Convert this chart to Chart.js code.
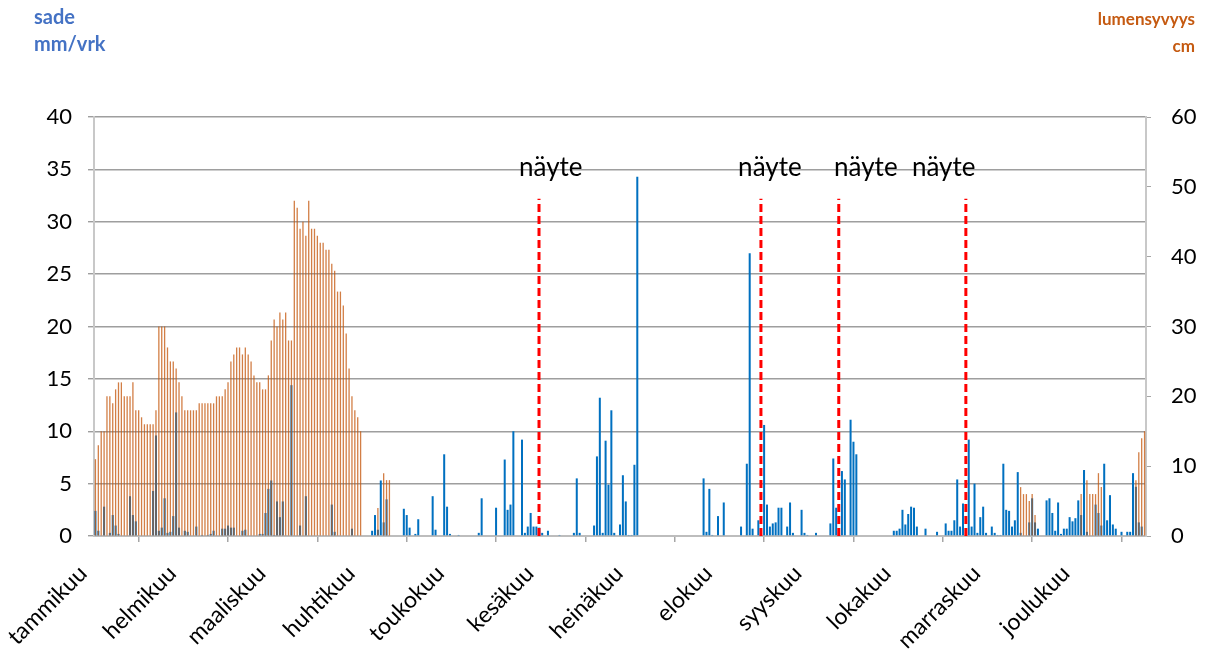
<!DOCTYPE html>
<html>
<head>
<meta charset="utf-8">
<script src="https://cdn.jsdelivr.net/npm/chart.js@4.4.1/dist/chart.umd.min.js"></script>
<style>
    body { margin: 0; background: #fff; font-family: Lato, "Open Sans", sans-serif; }
    #wrap { position: relative; width: 1213px; height: 659px; }
    .unit { position: absolute; top: 5px; font-weight: bold; font-size: 17px; line-height: 27px; }
</style>
</head>
<body>
<div id="wrap">
    <canvas id="chartCanvas"></canvas>
    <div class="unit" style="left:34px;color:#4472C4;font-size:20px;top:3px">sade<br>mm/vrk</div>
    <div class="unit" style="right:18px;color:#C55A11;text-align:right">lumensyvyys<br>cm</div>
</div>
<script>
"use strict";

const kuukaudet = ['tammikuu', 'helmikuu', 'maaliskuu', 'huhtikuu', 'toukokuu', 'kesäkuu',
    'heinäkuu', 'elokuu', 'syyskuu', 'lokakuu', 'marraskuu', 'joulukuu'];

// sade mm/vrk, päivät 0..364
const sade = [
    2.4, 0.5, 0, 2.8, 0, 0.3, 2.0, 1.0, 0.2, 0, 0, 0, 3.8, 2.0, 1.4, 0, 0, 0, 0, 0,
    4.3, 9.6, 0.5, 0.8, 3.6, 0.3, 0.4, 1.9, 11.8, 0.8, 0, 0.5, 0.4, 0, 0, 0.9, 0, 0.1, 0, 0.1,
    0.2, 0.5, 0, 0, 0.7, 0.7, 1.0, 0.8, 0.8, 0, 0, 0.5, 0.6, 0, 0, 0, 0, 0.2, 0.2, 2.2,
    4.5, 5.3, 0.1, 3.3, 1.8, 3.3, 0, 0, 14.4, 0, 0, 1.0, 0, 3.8, 0, 0, 0, 0, 0, 0,
    0, 0, 3.0, 0.4, 0, 0, 0, 0, 0, 0.7, 0, 0, 0, 0, 0, 0, 0.5, 2.0, 0.6, 5.3,
    1.3, 3.5, 0, 0, 0, 0, 0, 2.6, 2.0, 0.8, 0, 0.2, 1.6, 0, 0, 0, 0, 3.8, 0.6, 0,
    0, 7.8, 2.8, 0.2, 0, 0, 0.1, 0, 0, 0, 0, 0, 0, 0.3, 3.6, 0, 0, 0, 0, 2.7,
    0, 0, 7.3, 2.5, 3.0, 10.0, 0, 0, 9.2, 0.3, 0.9, 2.2, 0.9, 0.9, 0.8, 0.3, 0, 0.5, 0, 0,
    0, 0.1, 0, 0, 0, 0, 0.3, 5.5, 0.3, 0, 0, 0, 0, 1.0, 7.6, 13.2, 0.3, 9.1, 4.9, 12.0,
    0.3, 0, 1.1, 5.8, 3.3, 0.1, 0.1, 6.8, 34.3, 0, 0, 0, 0, 0, 0, 0, 0, 0, 0, 0,
    0, 0, 0, 0, 0, 0, 0, 0, 0, 0, 0, 5.5, 0.4, 4.5, 0.1, 0, 1.9, 0, 3.2, 0,
    0, 0, 0, 0, 0.9, 0, 6.9, 27.0, 0.7, 0, 1.5, 0, 10.6, 3.0, 0.9, 1.2, 1.3, 2.7, 2.7, 0,
    0.9, 3.2, 0.3, 0, 0, 2.5, 0.3, 0.1, 0, 0, 0.3, 0, 0, 0, 0, 1.2, 7.4, 2.7, 0, 6.2,
    5.4, 0, 11.1, 9.0, 7.8, 0, 0, 0, 0, 0, 0, 0, 0, 0, 0, 0, 0, 0.5, 0.5, 0.7,
    2.5, 1.1, 2.1, 2.8, 2.7, 0.9, 0, 0, 0.7, 0, 0, 0, 0.4, 0, 0, 1.2, 0.5, 0.5, 1.5, 5.4,
    0.9, 3.1, 0, 9.2, 0.9, 5.0, 0.3, 1.8, 2.8, 0.3, 0, 0.9, 0.3, 0.1, 0.1, 6.9, 2.5, 2.4, 0.9, 1.5,
    6.1, 0.3, 0, 0, 1.3, 3.6, 1.3, 0.7, 0, 0, 3.4, 3.6, 2.2, 0.5, 3.2, 0.2, 0.7, 0.7, 1.8, 1.4,
    1.7, 3.4, 2.0, 6.3, 0.4, 0, 0, 3.0, 2.2, 1.0, 6.9, 1.5, 3.9, 1.1, 0.7, 0, 0.4, 0, 0.4, 0.4,
    6.0, 4.7, 1.3, 0.9, 0
];

// lumensyvyys cm, päivät 0..364
const lumi = [
    11, 13, 15, 15, 20, 20, 19, 21, 22, 22, 20, 20, 20, 22, 18, 18, 17, 16, 16, 16,
    16, 18, 30, 30, 30, 27, 25, 25, 24, 22, 20, 18, 18, 18, 18, 18, 19, 19, 19, 19,
    19, 19, 20, 20, 20, 21, 22, 25, 26, 27, 27, 26, 27, 26, 25, 23, 22, 22, 21, 21,
    23, 28, 31, 30, 32, 31, 32, 28, 28, 48, 47, 44, 45, 43, 48, 44, 44, 43, 42, 42,
    41, 41, 39, 38, 35, 35, 33, 29, 24, 20, 18, 17, 15, 0, 0, 0, 0, 0, 4, 0,
    9, 8, 8
].concat(new Array(218).fill(0)).concat([
    7, 6, 6, 5, 6, 3, 0, 0, 0, 0, 0, 0, 0, 0, 0, 0, 0, 0, 0, 0,
    0, 6, 0, 8, 6, 6, 6, 9, 7, 0, 0, 0, 0, 0, 0, 0, 0, 0, 0, 0,
    8, 12, 14, 15
]);

// näytteenottopäivät (päivä vuoden alusta) ja tekstien paikat
const naytteet = [154.4, 231.4, 258.4, 302.5];
const nayteTekstit = [158.5, 234.5, 267.8, 294.8];
const viivanKorkeus = 32.2;
const tekstinKorkeus = 35.2;

Chart.defaults.font.family = 'Lato, "Open Sans", sans-serif';
Chart.defaults.color = '#000';

const nayteLabels = {
    id: 'nayteLabels',
    afterDatasetsDraw(chart) {
        const ctx = chart.ctx;
        const x = chart.scales.x, y = chart.scales.y;
        ctx.save();
        ctx.font = '26px Lato, "Open Sans", sans-serif';
        ctx.fillStyle = '#000';
        ctx.textAlign = 'center';
        ctx.textBaseline = 'middle';
        nayteTekstit.forEach(p => ctx.fillText('näyte', x.getPixelForValue(p), y.getPixelForValue(tekstinKorkeus)));
        ctx.restore();
    }
};

const viivat = naytteet.map(d => ({
    type: 'line',
    data: [{ x: d, y: 0 }, { x: d, y: viivanKorkeus }],
    yAxisID: 'y',
    borderColor: '#FF0000',
    borderWidth: 3,
    borderDash: [8, 4],
    pointRadius: 0,
    order: 0
}));

const plot = new Chart(document.getElementById('chartCanvas'), {
    type: 'bar',
    data: {
        datasets: [
            {
                label: 'lumensyvyys',
                data: lumi.map((v, i) => ({ x: i + 0.5, y: v })),
                yAxisID: 'y2',
                backgroundColor: 'rgba(197, 90, 17, 0.78)',
                grouped: false,
                categoryPercentage: 1,
                barPercentage: 0.45,
                order: 1
            },
            {
                label: 'sade',
                data: sade.map((v, i) => ({ x: i + 0.5, y: v })),
                yAxisID: 'y',
                backgroundColor: '#0070C0',
                grouped: false,
                categoryPercentage: 1,
                barPercentage: 0.7,
                order: 2
            },
            ...viivat
        ]
    },
    options: {
        responsive: true,
        maintainAspectRatio: false,
        animation: false,
        layout: { padding: { top: 117 } },
        plugins: { legend: { display: false }, tooltip: { enabled: false } },
        scales: {
            x: {
                type: 'linear',
                min: 0,
                max: 365,
                offset: false,
                afterBuildTicks: s => { s.ticks = kuukaudet.map((m, i) => ({ value: i * 31 })); },
                afterFit: s => { s.height = 123; },
                ticks: {
                    autoSkip: false,
                    minRotation: 45,
                    maxRotation: 45,
                    padding: 18,
                    labelOffset: -11,
                    font: { size: 23 },
                    callback: v => kuukaudet[Math.round(v / 31)]
                },
                grid: { drawOnChartArea: false, tickLength: 6, color: '#a6a6a6', lineWidth: 1.5 },
                border: { color: '#bdbdbd', width: 2 }
            },
            y: {
                position: 'left',
                min: 0,
                max: 40,
                afterFit: s => { s.width = 94; },
                ticks: { stepSize: 5, padding: 16, font: { size: 22 } },
                grid: { color: '#9e9e9e', lineWidth: 1.4, tickLength: 6 },
                border: { color: '#c8c8c8', width: 2 }
            },
            y2: {
                position: 'right',
                min: 0,
                max: 60,
                afterFit: s => { s.width = 67; },
                ticks: { stepSize: 10, padding: 20, font: { size: 22 } },
                grid: { drawOnChartArea: false, tickLength: 5, color: '#a6a6a6' },
                border: { color: '#c8c8c8', width: 2 }
            }
        }
    },
    plugins: [nayteLabels]
});
</script>
</body>
</html>
